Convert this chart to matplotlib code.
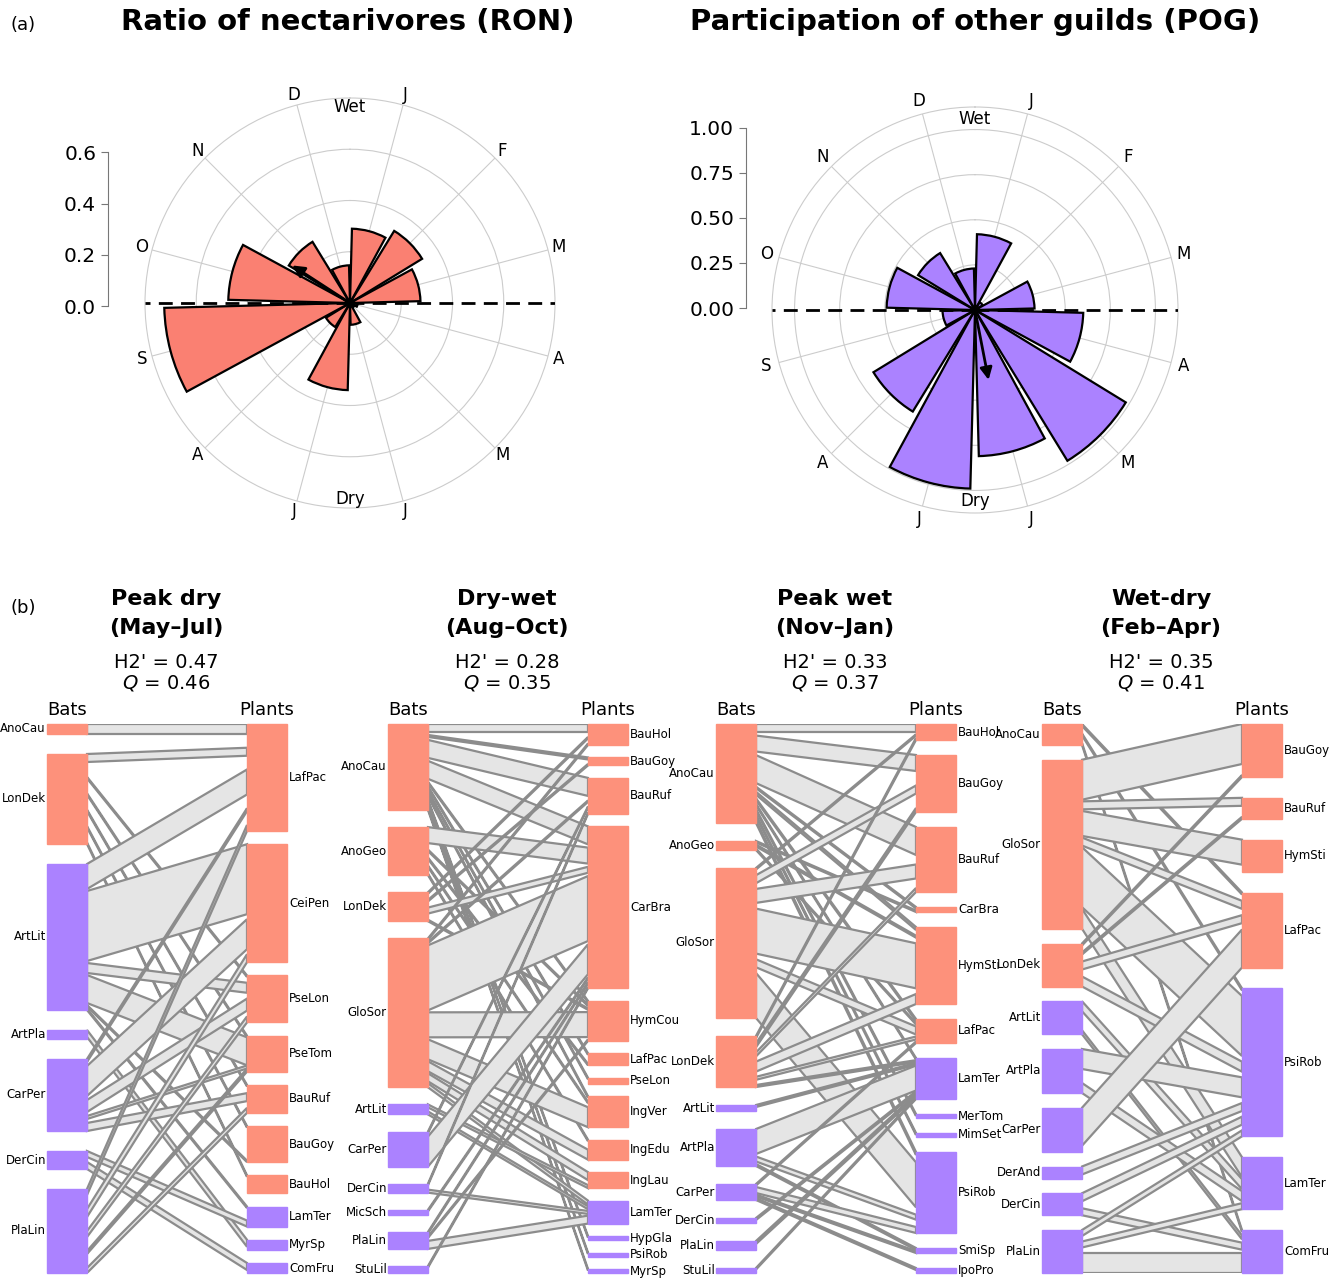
import numpy as np
import matplotlib.pyplot as plt
from matplotlib.patches import Polygon, Rectangle

# ---- top: monthly rose diagrams ----
months = ['J', 'F', 'M', 'A', 'M', 'J', 'J', 'A', 'S', 'O', 'N', 'D']
ron = [0.29, 0.33, 0.275, 0.03, 0.02, 0.085, 0.34, 0.11, 0.725, 0.475, 0.28, 0.147]
pog = [0.42, 0.05, 0.33, 0.60, 0.98, 0.81, 0.99, 0.66, 0.18, 0.49, 0.37, 0.23]
ron_mean = (303, 0.28)   # angle (deg, clockwise from top), length
pog_mean = (169, 0.41)

# ---- bottom: seasonal networks ----
bats1 = ['AnoCau', 'LonDek', 'ArtLit', 'ArtPla', 'CarPer', 'DerCin', 'PlaLin']
bats1_size = [10, 90, 146, 9, 72, 18, 84]
bats1_guild = ['n', 'n', 'o', 'o', 'o', 'o', 'o']
plants1 = ['LafPac', 'CeiPen', 'PseLon', 'PseTom', 'BauRuf', 'BauGoy', 'BauHol', 'LamTer', 'MyrSp', 'ComFru']
plants1_size = [107, 118, 47, 36, 28, 36, 18, 20, 10, 10]
plants1_guild = ['n', 'n', 'n', 'n', 'n', 'n', 'n', 'o', 'o', 'o']
links1 = [('AnoCau', 'LafPac', 10), ('LonDek', 'LafPac', 8), ('LonDek', 'PseLon', 1.5),
          ('LonDek', 'PseTom', 1.5), ('LonDek', 'BauRuf', 1.5), ('LonDek', 'BauGoy', 1.5),
          ('LonDek', 'BauHol', 1.5), ('ArtLit', 'LafPac', 25), ('ArtLit', 'CeiPen', 70),
          ('ArtLit', 'PseLon', 10), ('ArtLit', 'PseTom', 28), ('ArtLit', 'BauGoy', 1.5),
          ('ArtLit', 'LamTer', 1.5), ('ArtPla', 'MyrSp', 7), ('CarPer', 'LafPac', 3),
          ('CarPer', 'CeiPen', 30), ('CarPer', 'PseLon', 12), ('CarPer', 'PseTom', 3),
          ('CarPer', 'BauRuf', 8), ('DerCin', 'LamTer', 6), ('DerCin', 'ComFru', 7),
          ('PlaLin', 'LafPac', 6), ('PlaLin', 'CeiPen', 8), ('PlaLin', 'PseLon', 6),
          ('PlaLin', 'PseTom', 3), ('PlaLin', 'BauRuf', 5)]

bats2 = ['AnoCau', 'AnoGeo', 'LonDek', 'GloSor', 'ArtLit', 'CarPer', 'DerCin', 'MicSch', 'PlaLin', 'StuLil']
bats2_size = [86, 48, 29, 149, 10, 35, 9, 5, 17, 7]
bats2_guild = ['n', 'n', 'n', 'n', 'o', 'o', 'o', 'o', 'o', 'o']
plants2 = ['BauHol', 'BauGoy', 'BauRuf', 'CarBra', 'HymCou', 'LafPac', 'PseLon', 'IngVer', 'IngEdu',
           'IngLau', 'LamTer', 'HypGla', 'PsiRob', 'MyrSp']
plants2_size = [21, 8, 36, 162, 40, 12, 6, 31, 20, 16, 23, 4, 4, 4]
plants2_guild = ['n'] * 10 + ['o'] * 4
links2 = [('AnoCau', 'BauHol', 8), ('AnoCau', 'BauGoy', 2), ('AnoCau', 'BauRuf', 18),
          ('AnoCau', 'CarBra', 18), ('AnoCau', 'HymCou', 1.5), ('AnoCau', 'LafPac', 1.5),
          ('AnoCau', 'PseLon', 1.5), ('AnoCau', 'IngVer', 1.5), ('AnoCau', 'HypGla', 1.5),
          ('AnoCau', 'PsiRob', 1.5), ('AnoCau', 'MyrSp', 1.5), ('AnoGeo', 'CarBra', 16),
          ('AnoGeo', 'HymCou', 1.5), ('AnoGeo', 'LafPac', 1.5), ('AnoGeo', 'IngVer', 1.5),
          ('AnoGeo', 'IngEdu', 1.5), ('LonDek', 'BauHol', 1.5), ('LonDek', 'BauGoy', 1.5),
          ('LonDek', 'CarBra', 6), ('LonDek', 'HymCou', 1.5), ('GloSor', 'BauHol', 1.5),
          ('GloSor', 'BauRuf', 1.5), ('GloSor', 'CarBra', 65), ('GloSor', 'HymCou', 25),
          ('GloSor', 'IngVer', 20), ('GloSor', 'IngEdu', 10), ('GloSor', 'IngLau', 8),
          ('GloSor', 'LamTer', 4), ('ArtLit', 'IngLau', 3), ('ArtLit', 'LamTer', 3),
          ('CarPer', 'BauRuf', 1.5), ('CarPer', 'CarBra', 30), ('DerCin', 'BauRuf', 1.5),
          ('DerCin', 'LamTer', 3), ('MicSch', 'CarBra', 1.5), ('PlaLin', 'CarBra', 1.5),
          ('PlaLin', 'HymCou', 1.5), ('PlaLin', 'LamTer', 8), ('StuLil', 'CarBra', 1.5)]

bats3 = ['AnoCau', 'AnoGeo', 'GloSor', 'LonDek', 'ArtLit', 'ArtPla', 'CarPer', 'DerCin', 'PlaLin', 'StuLil']
bats3_size = [99, 9, 150, 51, 6, 37, 16, 5, 9, 5]
bats3_guild = ['n', 'n', 'n', 'n', 'o', 'o', 'o', 'o', 'o', 'o']
plants3 = ['BauHol', 'BauGoy', 'BauRuf', 'CarBra', 'HymSti', 'LafPac', 'LamTer', 'MerTom', 'MimSet',
           'PsiRob', 'SmiSp', 'IpoPro']
plants3_size = [16, 57, 65, 5, 77, 24, 41, 4, 4, 81, 5, 5]
plants3_guild = ['n'] * 6 + ['o'] * 6
links3 = [('AnoCau', 'BauHol', 8), ('AnoCau', 'BauGoy', 16), ('AnoCau', 'BauRuf', 28),
          ('AnoCau', 'CarBra', 1.5), ('AnoCau', 'HymSti', 3), ('AnoCau', 'LafPac', 2),
          ('AnoCau', 'LamTer', 1.5), ('AnoCau', 'MerTom', 2), ('AnoCau', 'MimSet', 2),
          ('AnoCau', 'PsiRob', 3), ('AnoGeo', 'CarBra', 1.5), ('AnoGeo', 'HymSti', 2),
          ('AnoGeo', 'LafPac', 1.5), ('GloSor', 'BauHol', 1.5), ('GloSor', 'BauGoy', 8),
          ('GloSor', 'BauRuf', 14), ('GloSor', 'HymSti', 45), ('GloSor', 'LafPac', 8),
          ('GloSor', 'PsiRob', 45), ('LonDek', 'BauHol', 2), ('LonDek', 'BauGoy', 4),
          ('LonDek', 'BauRuf', 4), ('LonDek', 'HymSti', 10), ('LonDek', 'LafPac', 3),
          ('LonDek', 'LamTer', 2), ('ArtLit', 'LamTer', 2), ('ArtPla', 'LamTer', 25),
          ('ArtPla', 'PsiRob', 5), ('ArtPla', 'SmiSp', 2), ('CarPer', 'LafPac', 1.5),
          ('CarPer', 'PsiRob', 6), ('CarPer', 'SmiSp', 2), ('CarPer', 'IpoPro', 2),
          ('DerCin', 'LamTer', 2), ('PlaLin', 'LamTer', 3), ('StuLil', 'LamTer', 1.5)]

bats4 = ['AnoCau', 'GloSor', 'LonDek', 'ArtLit', 'ArtPla', 'CarPer', 'DerAnd', 'DerCin', 'PlaLin']
bats4_size = [21, 169, 43, 33, 44, 44, 12, 22, 43]
bats4_guild = ['n', 'n', 'n', 'o', 'o', 'o', 'o', 'o', 'o']
plants4 = ['BauGoy', 'BauRuf', 'HymSti', 'LafPac', 'PsiRob', 'LamTer', 'ComFru']
plants4_size = [53, 21, 32, 75, 148, 52, 43]
plants4_guild = ['n', 'n', 'n', 'n', 'o', 'o', 'o']
links4 = [('AnoCau', 'LafPac', 2), ('AnoCau', 'PsiRob', 2), ('AnoCau', 'ComFru', 2),
          ('GloSor', 'BauGoy', 40), ('GloSor', 'BauRuf', 8), ('GloSor', 'HymSti', 25),
          ('GloSor', 'LafPac', 8), ('GloSor', 'PsiRob', 60), ('GloSor', 'LamTer', 20),
          ('LonDek', 'BauGoy', 2), ('LonDek', 'BauRuf', 2), ('LonDek', 'LafPac', 8),
          ('LonDek', 'PsiRob', 10), ('ArtLit', 'LamTer', 10), ('ArtLit', 'ComFru', 4),
          ('ArtPla', 'PsiRob', 20), ('ArtPla', 'LamTer', 10), ('CarPer', 'LafPac', 38),
          ('DerAnd', 'PsiRob', 8), ('DerCin', 'PsiRob', 8), ('DerCin', 'ComFru', 7),
          ('PlaLin', 'PsiRob', 6), ('PlaLin', 'LamTer', 6), ('PlaLin', 'ComFru', 20)]

seasons = ['Peak dry', 'Dry-wet', 'Peak wet', 'Wet-dry']
season_months = ['(May\u2013Jul)', '(Aug\u2013Oct)', '(Nov\u2013Jan)', '(Feb\u2013Apr)']
h2_vals = ['0.47', '0.28', '0.33', '0.35']
q_vals = ['0.46', '0.35', '0.37', '0.41']

guild_col = {'n': '#fd917b', 'o': '#ab82ff'}

W, H = 1341, 1280
fig = plt.figure(figsize=(W / 100, H / 100), dpi=100)


def px_rect(x0, y0, x1, y1):
    # pixel box (top-left origin) -> figure rect
    return [x0 / W, 1 - y1 / H, (x1 - x0) / W, (y1 - y0) / H]


def rose(cx, cy, r_px, vals, color, rmax, rticks, mean, wet_r, axis_x, axis_dy, top_tick,
         ticklabels, pad):
    ax = fig.add_axes(px_rect(cx - r_px, cy - r_px, cx + r_px, cy + r_px), projection='polar')
    ax.set_theta_zero_location('N')
    ax.set_theta_direction(-1)
    theta = np.deg2rad(15 + 30 * np.arange(12))
    ax.bar(theta, vals, width=np.deg2rad(27), color=color, edgecolor='black', linewidth=1.6, zorder=3)
    ax.set_ylim(0, rmax)
    ax.set_yticks(rticks)
    ax.set_yticklabels([])
    ax.set_xticks(theta)
    ax.set_xticklabels(months, fontsize=12)
    ax.tick_params(axis='x', pad=pad)
    ax.grid(color='#cccccc', lw=0.8)
    ax.spines['polar'].set_color('#cccccc')
    ax.spines['polar'].set_linewidth(0.8)
    for a in [np.pi / 2, 3 * np.pi / 2]:
        ax.plot([a, a], [0, rmax], color='black', ls=(0, (5, 3)), lw=2, zorder=4)
    ax.annotate('', xy=(np.deg2rad(mean[0]), mean[1]), xytext=(0, 0),
                arrowprops=dict(arrowstyle='-|>', color='black', lw=2, mutation_scale=18), zorder=5)
    ax.text(0, wet_r, 'Wet', ha='center', va='center', fontsize=12)
    ax.text(np.pi, wet_r, 'Dry', ha='center', va='center', fontsize=12)

    # radial scale drawn as a separate vertical axis to the left
    rax = fig.add_axes(px_rect(axis_x, cy + axis_dy - r_px, axis_x + 2, cy + axis_dy))
    rax.set_ylim(0, rmax)
    rax.patch.set_visible(False)
    for s in ['top', 'right', 'bottom']:
        rax.spines[s].set_visible(False)
    rax.spines['left'].set_bounds(0, top_tick)
    rax.spines['left'].set_color('#777777')
    rax.set_xticks([])
    rax.set_yticks(ticklabels)
    rax.set_yticklabels([('%.1f' if top_tick < 1 else '%.2f') % t for t in ticklabels], fontsize=14.5)
    rax.tick_params(axis='y', color='#777777', length=5)


rose(350, 303, 205, ron, '#fa8072', 0.8, [0.2, 0.4, 0.6], ron_mean, 0.765, 108, 3, 0.6,
     [0.0, 0.2, 0.4, 0.6], -3)
rose(975, 310, 203, pog, '#ab82ff', 1.125, [0.25, 0.5, 0.75, 1.0], pog_mean, 1.06, 746, -2, 1.0,
     [0.0, 0.25, 0.5, 0.75, 1.0], -1)

fig.text(348 / W, 1 - 22 / H, 'Ratio of nectarivores (RON)', ha='center', va='center',
         fontsize=21, fontweight='bold')
fig.text(975 / W, 1 - 22 / H, 'Participation of other guilds (POG)', ha='center', va='center',
         fontsize=21, fontweight='bold')
fig.text(10 / W, 1 - 25 / H, '(a)', ha='left', va='center', fontsize=13)
fig.text(10 / W, 1 - 608 / H, '(b)', ha='left', va='center', fontsize=13)


def network(x0, bats, bat_size, bat_guild, plants, plant_size, plant_guild, links, k):
    L = 549
    ax = fig.add_axes(px_rect(x0, 724, x0 + 240, 724 + L))
    ax.set_xlim(0, 240)
    ax.set_ylim(L, 0)
    ax.axis('off')

    def stack(sizes):
        sizes = np.array(sizes, float)
        gap = (L - sizes.sum()) / (len(sizes) - 1)
        return np.concatenate([[0], np.cumsum(sizes[:-1] + gap)])

    bt = stack(bat_size)
    pt = stack(plant_size)
    bi = [bats.index(l[0]) for l in links]
    pj = [plants.index(l[1]) for l in links]
    w = [l[2] for l in links]
    yb = np.zeros(len(links))
    yp = np.zeros(len(links))

    def spread(ks, top, size, out):
        tot = sum(w[q] for q in ks)
        g = (size - tot) / (len(ks) - 1) if len(ks) > 1 else 0
        y = top
        for q in ks:
            out[q] = y
            y += w[q] + g

    for i in range(len(bats)):
        ks = sorted([q for q in range(len(links)) if bi[q] == i], key=lambda q: pj[q])
        spread(ks, bt[i], bat_size[i], yb)
    for j in range(len(plants)):
        ks = sorted([q for q in range(len(links)) if pj[q] == j], key=lambda q: bi[q])
        spread(ks, pt[j], plant_size[j], yp)

    for q in range(len(links)):
        poly = Polygon([(40, yb[q]), (200, yp[q]), (200, yp[q] + w[q]), (40, yb[q] + w[q])],
                       closed=True, facecolor='#e5e5e5', edgecolor='#8c8c8c', lw=1.6, zorder=2)
        ax.add_patch(poly)

    for i, b in enumerate(bats):
        ax.add_patch(Rectangle((0, bt[i]), 40, bat_size[i], color=guild_col[bat_guild[i]], zorder=3,
                               clip_on=False))
        ax.text(-1, bt[i] + bat_size[i] / 2, b, ha='right', va='center', fontsize=8.5)
    for j, p in enumerate(plants):
        ax.add_patch(Rectangle((200, pt[j]), 40, plant_size[j], color=guild_col[plant_guild[j]],
                               zorder=3, clip_on=False))
        ax.text(242, pt[j] + plant_size[j] / 2, p, ha='left', va='center', fontsize=8.5)

    ax.text(20, -14, 'Bats', ha='center', va='center', fontsize=13)
    ax.text(220, -14, 'Plants', ha='center', va='center', fontsize=13)

    cx = x0 + 119
    fig.text(cx / W, 1 - 599 / H, seasons[k], ha='center', va='center', fontsize=16, fontweight='bold')
    fig.text(cx / W, 1 - 628 / H, season_months[k], ha='center', va='center', fontsize=16,
             fontweight='bold')
    fig.text(cx / W, 1 - 662 / H, "H2' = " + h2_vals[k], ha='center', va='center', fontsize=14)
    fig.text(cx / W, 1 - 683 / H, r'$Q$ = ' + q_vals[k], ha='center', va='center', fontsize=14)


network(47, bats1, bats1_size, bats1_guild, plants1, plants1_size, plants1_guild, links1, 0)
network(388, bats2, bats2_size, bats2_guild, plants2, plants2_size, plants2_guild, links2, 1)
network(716, bats3, bats3_size, bats3_guild, plants3, plants3_size, plants3_guild, links3, 2)
network(1042, bats4, bats4_size, bats4_guild, plants4, plants4_size, plants4_guild, links4, 3)

fig.savefig('out.png', dpi=100)
